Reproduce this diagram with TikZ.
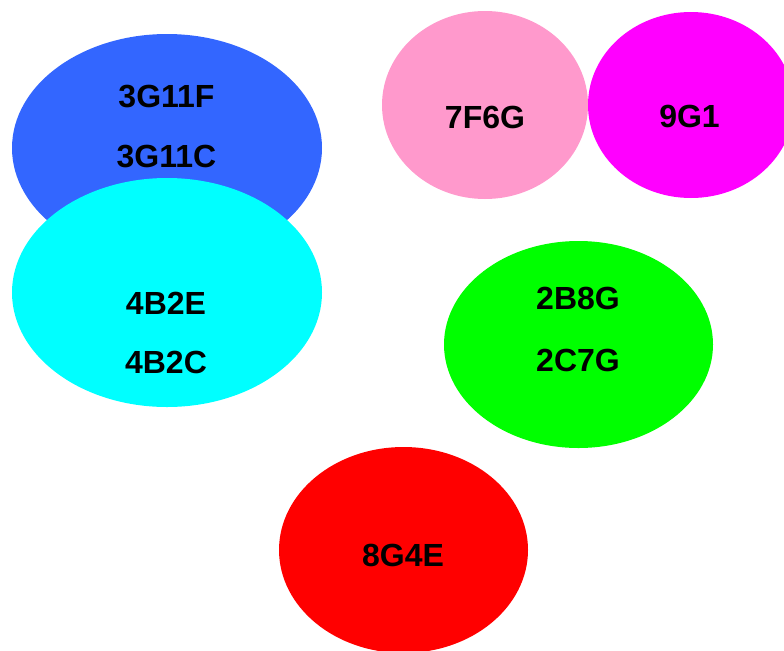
\documentclass[tikz,border=0pt]{standalone}
\usepackage{fontspec}
\setmainfont{Liberation Sans}
\usepackage{tikz}
\usetikzlibrary{shapes.geometric}
\definecolor{BlobBlue}{HTML}{3366FF}
\definecolor{BlobCyan}{HTML}{00FFFF}
\definecolor{BlobPink}{HTML}{FF99CC}
\definecolor{BlobMagenta}{HTML}{FF00FF}
\definecolor{BlobGreen}{HTML}{00FF00}
\definecolor{BlobRed}{HTML}{FF0000}

\begin{document}
\begin{tikzpicture}[
    x=0.75pt, y=-0.75pt,
    blob/.style={
      ellipse, draw=none, inner sep=0pt
    },
    tag/.style={anchor=base, inner sep=0pt, font=\fontsize{24}{28}\selectfont\bfseries}
  ]
    \clip (0,0) rectangle (784,650);
    \useasboundingbox (0,0) rectangle (784,650);

    \node[blob, fill=BlobBlue, minimum width=232.5pt, minimum height=171pt] (blue) at (167,148) {};
    \node[blob, fill=BlobCyan, minimum width=232.5pt, minimum height=171.75pt] (cyan) at (167,292.5) {};
    \node[blob, fill=BlobPink, minimum width=154.5pt, minimum height=141pt] (pink) at (485,105) {};
    \node[blob, fill=BlobMagenta, minimum width=154.5pt, minimum height=139.5pt] (magenta) at (691,105) {};
    \node[blob, fill=BlobGreen, minimum width=201.75pt, minimum height=155.25pt] (green) at (578.5,344.5) {};
    \node[blob, fill=BlobRed, minimum width=186.75pt, minimum height=154.5pt] (red) at (403.5,550) {};

    \node[tag] (t3g11f) at (166.5,107.5) {3G11F};
    \node[tag] (t3g11c) at (166.5,167.5) {3G11C};
    \node[tag] (t4b2e) at (166,314.5) {4B2E};
    \node[tag] (t4b2c) at (166,373.5) {4B2C};
    \node[tag] (t7f6g) at (485,128.5) {7F6G};
    \node[tag] (t9g1) at (689.5,127.5) {9G1};
    \node[tag] (t2b8g) at (578,309.5) {2B8G};
    \node[tag] (t2c7g) at (578,371.5) {2C7G};
    \node[tag] (t8g4e) at (403,566) {8G4E};
  \end{tikzpicture}
\end{document}
